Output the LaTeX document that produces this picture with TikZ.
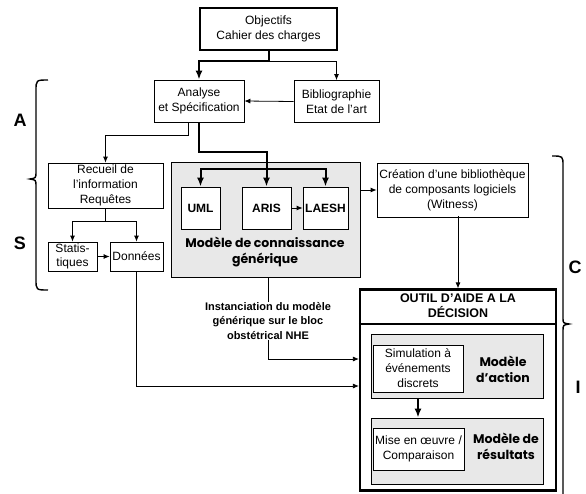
\documentclass[tikz,border=0pt]{standalone}
\usepackage{fontspec}
\setmainfont{Liberation Sans}
\newfontfamily\casual{Poppins}
\usetikzlibrary{arrows.meta}
\begin{document}
\begin{tikzpicture}[x=1pt,y=-1pt,
  every node/.style={inner sep=0pt,align=center},
  txt/.style={font=\fontsize{12}{15}\selectfont},
  boxw/.style={draw,fill=white,line width=0.8pt,txt},
  bigbox/.style={draw,fill=white,line width=2.2pt,txt},
  graybox/.style={draw,fill=black!9,line width=0.8pt},
  tag/.style={font=\fontsize{12}{15}\selectfont\bfseries},
  comic/.style={font=\fontsize{12.5}{16}\selectfont\casual\bfseries},
  side/.style={font=\fontsize{18}{18}\selectfont\bfseries},
  thin/.style={line width=0.8pt,-{Latex[length=6pt,width=5pt]}},
  thin0/.style={line width=0.8pt},
  fat/.style={line width=2pt,-{Latex[length=9pt,width=7pt]}},
  fat0/.style={line width=2pt},
  brace/.style={line width=1.4pt}]
\useasboundingbox (0,0) rectangle (586,493);

% upper part
\node[bigbox,minimum width=137,minimum height=42] (obj) at (268.5,29) {Objectifs\\Cahier des charges};
\node[boxw,minimum width=90,minimum height=42] (ana) at (199,101) {Analyse\\et Spécification};
\node[boxw,minimum width=85,minimum height=42] (bib) at (336.5,101.5) {Bibliographie\\Etat de l’art};

% information gathering
\node[boxw,minimum width=115,minimum height=45] (rec) at (105.5,185.5) {Recueil de\\l’information\\Requêtes};
\node[boxw,minimum width=49,minimum height=29,font=\fontsize{12}{14}\selectfont] (stat) at (72.5,256.5) {Statis-\\tiques};
\node[boxw,minimum width=53,minimum height=29] (don) at (136.5,256.5) {Données};

% generic knowledge model
\node[graybox,minimum width=189,minimum height=115] (gen) at (265.5,219.5) {};
\node[boxw,tag,minimum width=39,minimum height=42] (uml) at (200.5,208) {UML};
\node[boxw,tag,minimum width=49,minimum height=42] (aris) at (266.5,208) {ARIS};
\node[boxw,tag,minimum width=45,minimum height=42] (laesh) at (325.5,208) {LAESH};
\node[comic] (gent) at (265,252) {Modèle de connaissance\\générique};

\node[boxw,minimum width=151,minimum height=54] (cre) at (452.5,190) {Création d’une bibliothèque\\de composants logiciels\\(Witness)};

% decision support tool
\node[bigbox,minimum width=196,minimum height=201] (outil) at (458,390) {};
\draw[line width=2pt] (outil.west |- 0,324) coordinate (hl) -- (outil.east |- hl);
\node[font=\fontsize{12.5}{15}\selectfont\bfseries] (otit) at (458,306) {OUTIL D’AIDE A LA\\DÉCISION};

\node[graybox,minimum width=172,minimum height=64] (act) at (457,366) {};
\node[boxw,minimum width=90,minimum height=47] (sim) at (418,368.5) {Simulation à\\événements\\discrets};
\node[comic] (actt) at (503,369) {Modèle\\d’action};

\node[graybox,minimum width=172,minimum height=66] (res) at (457,451) {};
\node[boxw,minimum width=91,minimum height=42] (mise) at (418.5,449) {Mise en œuvre /\\Comparaison};
\node[comic] (rest) at (506,446) {Modèle de\\résultats};

\node[font=\fontsize{11}{14.5}\selectfont\bfseries] (inst) at (268,321) {Instanciation du modèle\\générique sur le bloc\\obstétrical NHE};

% connectors
\draw[fat] (obj.south) -- ++(0,10) coordinate (j0) -| (ana.north);
\draw[thin] (j0) -| (bib.north);
\draw[thin] (bib.west) -- (ana.east);
\draw[thin] ([xshift=-11pt]ana.south) -- ++(0,13) -| (rec.north);
\draw[fat] (ana.south) -- ++(0,30) -| (aris.north);
\coordinate (j1) at (aris.north |- 0,169);
\draw[fat] (j1) -| (uml.north);
\draw[fat] (j1) -| (laesh.north);
\draw[thin] (aris.east) -- (laesh.west);
\draw[thin] (gen.east |- cre.west) -- (cre.west);
\draw[thin] (outil.north -| 458,0) ++(0,-72) -- (outil.north);
\draw[thin0] (rec.south) -- ++(0,13) coordinate (j2);
\draw[thin] (j2) -| (stat.north);
\draw[thin] (j2) -| (don.north);
\draw[thin] (stat.east) -- (don.west);
\draw[thin] (don.south) |- ([yshift=4pt]outil.west);
\draw[thin0] (inst.north |- gen.south) -- (inst.north);
\draw[thin] (inst.south) |- ([yshift=31pt]outil.west);
\draw[fat] (act.south -| sim.south) -- (res.north -| sim.south);

% braces and phase letters
\draw[brace] (48,80) .. controls (36,80) .. (36,91) -- (36,172)
  .. controls (36,178) .. (30,179) .. controls (36,180) .. (36,186)
  -- (36,279) .. controls (36,290) .. (48,290);
\draw[brace] (552,156) .. controls (563,156) .. (563,166) -- (563,318)
  .. controls (563,323) .. (569,324) .. controls (563,325) .. (563,331)
  -- (563,494);
\node[side] (la) at (20,120) {A};
\node[side] (ls) at (20,243) {S};
\node[side] (lc) at (575,267) {C};
\node[side] (li) at (578,387) {I};
\end{tikzpicture}
\end{document}
